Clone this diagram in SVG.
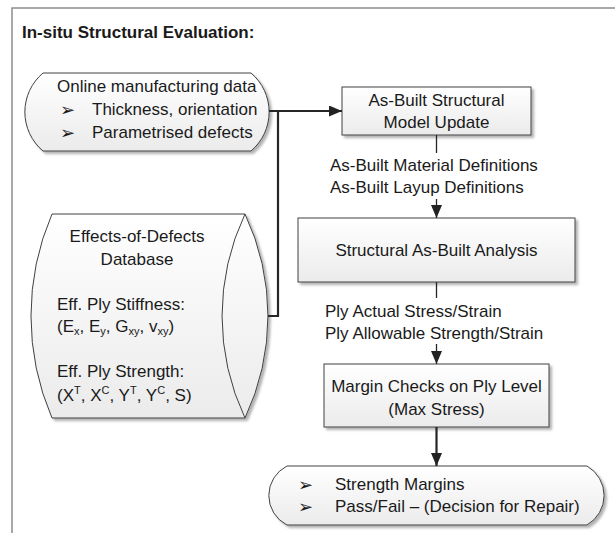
<svg xmlns="http://www.w3.org/2000/svg" width="615" height="533" viewBox="0 0 615 533">
<defs>
<linearGradient id="g" x1="0" y1="0" x2="0" y2="1"><stop offset="0" stop-color="#ffffff"/><stop offset="1" stop-color="#ebebeb"/></linearGradient>
<filter id="sh" x="-10%" y="-10%" width="130%" height="130%"><feDropShadow dx="2.5" dy="2.5" stdDeviation="1.2" flood-color="#000" flood-opacity="0.3"/></filter>
<marker id="ah" markerUnits="userSpaceOnUse" markerWidth="14" markerHeight="12" refX="13" refY="5.5" orient="auto"><path d="M0,0 L13,5.5 L0,11 Z" fill="#222"/></marker>
</defs>
<style>
.shape{fill:url(#g);stroke:#404040;stroke-width:1;filter:url(#sh)}
text{font-family:"Liberation Sans",Arial,sans-serif;font-size:17px;fill:#1a1a1a}
.t{font-weight:bold}
.m{text-anchor:middle}
.b{font-family:"DejaVu Sans",sans-serif;font-size:18px}
.s{font-size:11px}
.c{fill:none;stroke:#262626}
.thin{stroke-width:1.3}
.thick{stroke-width:2.2}
</style>
<rect x="12" y="8" width="610" height="540" fill="none" stroke="#8c8c8c" stroke-width="1.5"/>
<text class="t" x="22" y="38">In-situ Structural Evaluation:</text>

<g id="online">
<path class="shape" d="M43,73 L251,73 A51,51 0 0 1 251,151 L43,151 A51,51 0 0 1 43,73 Z"/>
<text x="57" y="91.5">Online manufacturing data</text>
<text class="b" x="60" y="115.5">➢</text><text x="92" y="115">Thickness, orientation</text>
<text class="b" x="60" y="138.5">➢</text><text x="92" y="138">Parametrised defects</text>
</g>

<g id="database">
<path class="shape" d="M52,214 L245,214 A238,238 0 0 1 245,418 L52,418 A258,258 0 0 1 52,214 Z"/>
<path d="M245,214 A238,238 0 0 0 245,418" fill="none" stroke="#404040" stroke-width="1"/>
<text class="m" x="137" y="241.5">Effects-of-Defects</text>
<text class="m" x="137" y="264.5">Database</text>
<text x="57" y="310">Eff. Ply Stiffness:</text>
<text x="57" y="332">(E<tspan class="s" dy="3">x</tspan><tspan dy="-3">, E</tspan><tspan class="s" dy="3">y</tspan><tspan dy="-3">, G</tspan><tspan class="s" dy="3">xy</tspan><tspan dy="-3">, v</tspan><tspan class="s" dy="3">xy</tspan><tspan dy="-3">)</tspan></text>
<text x="57" y="377">Eff. Ply Strength:</text>
<text x="57" y="401">(X<tspan class="s" dy="-7">T</tspan><tspan dy="7">, X</tspan><tspan class="s" dy="-7">C</tspan><tspan dy="7">, Y</tspan><tspan class="s" dy="-7">T</tspan><tspan dy="7">, Y</tspan><tspan class="s" dy="-7">C</tspan><tspan dy="7">, S)</tspan></text>
</g>

<g id="asbuilt">
<rect class="shape" x="342" y="87" width="189" height="48"/>
<text class="m" x="436.5" y="106">As-Built Structural</text>
<text class="m" x="436.5" y="128">Model Update</text>
</g>

<g id="analysis">
<rect class="shape" x="298" y="218" width="277" height="64"/>
<text class="m" x="436.5" y="256">Structural As-Built Analysis</text>
</g>

<g id="margin">
<rect class="shape" x="324" y="364" width="225" height="63"/>
<text class="m" x="436.5" y="392">Margin Checks on Ply Level</text>
<text class="m" x="436.5" y="415">(Max Stress)</text>
</g>

<g id="result">
<path class="shape" d="M287,466 L587,466 A34,34 0 0 1 587,525 L287,525 A33,33 0 0 1 287,466 Z"/>
<text class="b" x="298" y="490.5">➢</text><text x="335" y="490">Strength Margins</text>
<text class="b" x="298" y="512.5">➢</text><text x="335" y="512">Pass/Fail – (Decision for Repair)</text>
</g>

<g id="labels">
<text x="330" y="171">As-Built Material Definitions</text>
<text x="330" y="192.5">As-Built Layup Definitions</text>
<text x="325" y="316.5">Ply Actual Stress/Strain</text>
<text x="325" y="339">Ply Allowable Strength/Strain</text>
</g>

<g id="connectors">
<path class="c thick" d="M269,111 L342,111" marker-end="url(#ah)"/>
<path class="c thick" d="M268,316 L278,316 L278,111"/>
<path class="c thin" d="M436.5,135 L436.5,153"/>
<path class="c thin" d="M436.5,199 L436.5,218" marker-end="url(#ah)"/>
<path class="c thin" d="M436.5,282 L436.5,298"/>
<path class="c thin" d="M436.5,344 L436.5,364" marker-end="url(#ah)"/>
<path class="c thick" d="M436.5,427 L436.5,466" marker-end="url(#ah)"/>
</g>
</svg>
